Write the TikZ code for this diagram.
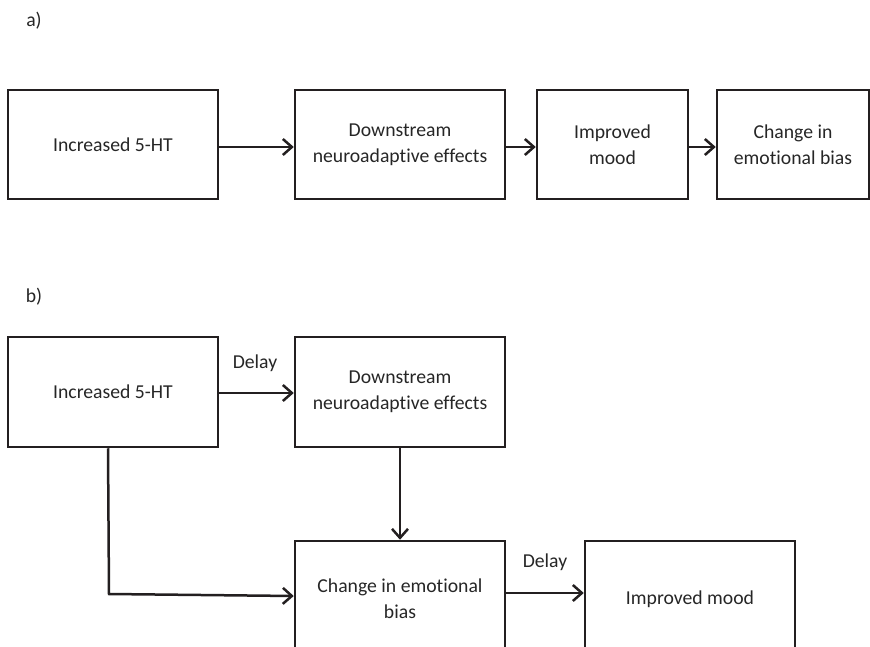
\documentclass[tikz,border=0pt]{standalone}
\usepackage{fontspec}
\setmainfont[Ligatures={NoCommon}]{Carlito}
\usetikzlibrary{arrows.meta}
\definecolor{ink}{HTML}{231F20}
\definecolor{txt}{HTML}{262626}
\newcommand{\tinoliga}{t\kern0pt i}
\tikzset{
  box/.style={draw=ink, line width=2.5pt, inner sep=0pt, align=center, text=txt,
    font=\fontsize{19.7}{26}\selectfont},
  conn/.style={draw=ink, line width=2.5pt, -{Straight Barb[length=9pt,width=16pt,line width=2.5pt]}},
  lbl/.style={text=txt, inner sep=0pt, font=\fontsize{19.7}{26}\selectfont}
}
\begin{document}
\begin{tikzpicture}[x=1pt,y=-1pt]
\useasboundingbox (0,0) rectangle (870,647);
\clip (0,0) rectangle (870,647);
% a)
\node[lbl] (la) at (34,21) {a)};
\node[box, minimum width=210pt, minimum height=109pt] (a1) at (113,144.5) {Increased 5-HT};
\node[box, minimum width=210pt, minimum height=109pt] (a2) at (400,144.5) {Downstream\\neuroadap\tinoliga ve effects};
\node[box, minimum width=151pt, minimum height=109pt] (a3) at (612.5,144.5) {Improved\\mood};
\node[box, minimum width=152pt, minimum height=109pt] (a4) at (793,144.5) {Change in\\emo\tinoliga onal bias};
\draw[conn] (a1.east |- 0,147) -- (a2.west |- 0,147);
\draw[conn] (a2.east |- 0,147) -- (a3.west |- 0,147);
\draw[conn] (a3.east |- 0,147) -- (a4.west |- 0,147);
% b)
\node[lbl] (lb) at (34,297) {b)};
\node[box, minimum width=210pt, minimum height=110pt] (b1) at (113,392) {Increased 5-HT};
\node[box, minimum width=210pt, minimum height=110pt] (b2) at (400,392) {Downstream\\neuroadap\tinoliga ve effects};
\node[box, minimum width=210pt, minimum height=116pt] (b3) at (400,599) {Change in emo\tinoliga onal\\bias};
\node[box, minimum width=210pt, minimum height=116pt] (b4) at (690,599) {Improved mood};
\node[lbl] (d1) at (255,363) {Delay};
\node[lbl] (d2) at (545,562) {Delay};
\draw[conn] (b1.east |- 0,393) -- (b2.west |- 0,393);
\draw[conn] (b2.south) -- (b3.north);
\coordinate (bend) at (109,594);
\draw[conn] (b1.south -| 108,0) -- (bend) -- (b3.west |- 0,596);
\draw[conn] (b3.east |- 0,593) -- (b4.west |- 0,593);
\end{tikzpicture}
\end{document}
